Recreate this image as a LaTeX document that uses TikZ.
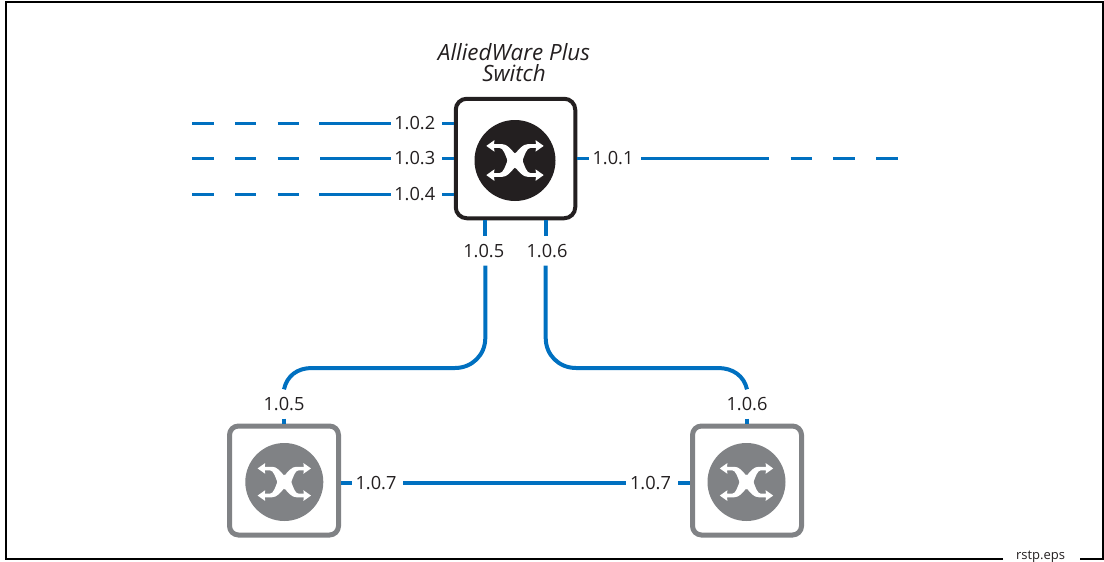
\documentclass[tikz,border=0pt]{standalone}
\usepackage{fontspec}
\setmainfont{Open Sans}
\definecolor{linkblue}{RGB}{0,112,192}
\definecolor{ink}{RGB}{35,31,32}
\definecolor{greyink}{RGB}{128,130,133}
\tikzset{x=1pt,y=-1pt,
 link/.style={draw=linkblue,line width=4pt},
 thinlink/.style={draw=linkblue,line width=3pt},
 dashlink/.style={draw=linkblue,line width=3pt,dash pattern=on 21.4pt off 21.3pt},
 lab/.style={font=\fontsize{18.2}{18}\selectfont,text=ink,inner xsep=3.5pt,inner ysep=8pt,text height=13pt,text depth=0pt},
 mainsw/.style={draw=ink,fill=white,line width=4pt,rounded corners=11pt,minimum width=119.5pt,minimum height=119.5pt,inner sep=0pt},
 greysw/.style={draw=greyink,fill=white,line width=5pt,rounded corners=9pt,minimum width=109pt,minimum height=109pt,inner sep=0pt},
 frameline/.style={draw=black,line width=2pt},
 titletext/.style={font=\fontsize{22.4}{21}\selectfont\itshape,text=ink,align=center,inner sep=0pt},
 sourcetext/.style={font=\fontsize{13}{13}\selectfont,text=ink,inner sep=0pt},
}
\newcommand{\swglyph}[4]{% name, radius, scale, colour
 \fill[#4] (#1) circle (#2);
 \begin{scope}[shift={(#1)},scale=#3]
  \fill[white] (-8,0) -- (0,-8) -- (8,0) -- (0,8) -- cycle;
  \foreach \sx in {1,-1}{\foreach \sy in {1,-1}{
   \begin{scope}[xscale=\sx,yscale=\sy]
    \fill[white] (-1,0) -- (0,6.5) .. controls (4,11.5) and (8,16.4) .. (13,16.4)
      -- (21,16.4) -- (20.5,20.4) -- (28.7,14.6) -- (20.5,8.8) -- (21,12.6)
      -- (15.5,12.6) .. controls (11.5,12.6) and (9.5,5) .. (7.5,0) -- cycle;
   \end{scope}}}
 \end{scope}}
\begin{document}
\begin{tikzpicture}
\useasboundingbox (0,0) rectangle (1104,562);
% frame
\coordinate (fa) at (1003,559);
\coordinate (fb) at (6,559);
\coordinate (fc) at (6,2);
\coordinate (fd) at (1102.5,2);
\coordinate (fe) at (1102.5,559);
\coordinate (ff) at (1080,559);
\draw[frameline] (fa) -- (fb) -- (fc) -- (fd) -- (fe) -- (ff);
\node[sourcetext] (src) at (1040.5,556.5) {rstp.eps};
% switches
\node[mainsw] (main) at (515.5,158.5) {};
\node[greysw] (sa) at (284,480.5) {};
\node[greysw] (sb) at (747,480.5) {};
\coordinate (ca) at (515,160.5);
\coordinate (cb) at (284.3,482);
\coordinate (cc) at (746.5,482);
\swglyph{ca}{40.5}{1}{ink}
\swglyph{cb}{39}{0.93}{greyink}
\swglyph{cc}{39}{0.93}{greyink}
\node[titletext] (title) at (514,63) {AlliedWare Plus\\Switch};
% labels
\node[lab] (p2) at (414.7,123.4) {1.0.2};
\node[lab] (p3) at (414.7,158.3) {1.0.3};
\node[lab] (p4) at (414.7,194) {1.0.4};
\node[lab] (p1) at (613,158.3) {1.0.1};
\node[lab] (p5) at (483.7,251) {1.0.5};
\node[lab] (p6) at (547,251) {1.0.6};
\node[lab] (p5b) at (284,404) {1.0.5};
\node[lab] (p6b) at (747,404) {1.0.6};
\node[lab] (p7a) at (376,482.7) {1.0.7};
\node[lab] (p7b) at (650.5,482.7) {1.0.7};
% left ports
\foreach \n/\s in {p2/318.5,p3/320,p4/319}{
 \coordinate (m\n) at (\s,0);
 \coordinate (a\n) at (299,0);
 \coordinate (b\n) at (192.3,0);
 \draw[thinlink,shorten >=3pt] (main.west |- \n) -- (\n.east);
 \draw[thinlink] (\n.west) -- (m\n |- \n);
 \draw[dashlink] (b\n |- \n) -- (a\n |- \n);
}
% right port
\coordinate (m1) at (769.3,0);
\coordinate (a1) at (790.7,0);
\coordinate (b1) at (897.7,0);
\draw[thinlink] (main.east |- p1) -- (p1.west);
\draw[thinlink,shorten <=4pt] (p1.east) -- (m1 |- p1);
\draw[dashlink] (a1 |- p1) -- (b1 |- p1);
% lower links
\coordinate (v5) at (485.3,0);
\coordinate (v6) at (545.7,0);
\draw[link] (main.south -| v5) -- (v5 |- p5.north);
\draw[link] (main.south -| v6) -- (v6 |- p6.north);
\draw[link] (v5 |- p5.south) -- (485.3,338) .. controls (485.3,355) and (472,368) .. (455,368) -- (312,368) .. controls (297,368) and (287,376) .. (p5b.north);
\draw[link] (v6 |- p6.south) -- (545.7,338) .. controls (545.7,355) and (559,368) .. (576,368) -- (718,368) .. controls (733,368) and (744,376) .. (p6b.north);
\draw[link] (p5b.south) -- (sa.north);
\draw[link] (p6b.south) -- (sb.north);
\draw[link] (sa.east |- p7a) -- (p7a.west);
\draw[link,shorten <=3pt] (p7a.east) -- (p7b.west);
\draw[link,shorten <=3.5pt] (p7b.east) -- (sb.west |- p7b);
\end{tikzpicture}
\end{document}
